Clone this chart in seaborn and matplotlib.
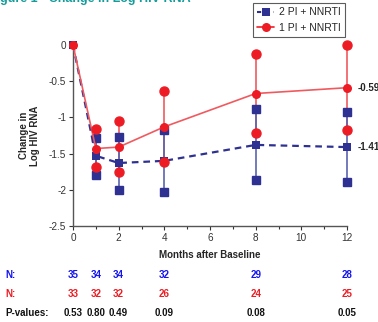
import matplotlib
matplotlib.use("Agg")
import matplotlib.pyplot as plt
import seaborn as sns
import pandas as pd
from matplotlib.lines import Line2D

months = [0, 1, 2, 4, 8, 12]
blue_mean = [0, -1.53, -1.63, -1.60, -1.38, -1.41]
blue_hi = [0, -1.28, -1.27, -1.17, -0.88, -0.92]
blue_lo = [0, -1.80, -2.00, -2.03, -1.87, -1.89]
red_mean = [0, -1.43, -1.41, -1.13, -0.67, -0.59]
red_hi = [0, -1.16, -1.05, -0.63, -0.12, 0.0]
red_lo = [0, -1.68, -1.76, -1.61, -1.22, -1.17]

n_months = [0, 1, 2, 4, 8, 12]
n_blue = ["35", "34", "34", "32", "29", "28"]
n_red = ["33", "32", "32", "26", "24", "25"]
p_values = ["0.53", "0.80", "0.49", "0.09", "0.08", "0.05"]

g_blue = "2 PI + NNRTI"
g_red = "1 PI + NNRTI"
c_blue = "#2e3192"
c_blue_line = "#5a63b0"
c_red = "#ed1c24"
c_red_line = "#f05a5f"

sns.set_style("ticks")
plt.rcParams['font.family'] = ['Liberation Sans', 'DejaVu Sans']

fig = plt.figure(figsize=(3.78, 3.22), dpi=100)
ax = fig.add_axes([73/378, 1-226/322, (347-73)/378, (226-45)/322])

df = pd.DataFrame({
    "month": months + months,
    "change": blue_mean + red_mean,
    "group": [g_blue]*len(months) + [g_red]*len(months),
})

# error bar lines
for m, lo, hi in zip(months[1:], red_lo[1:], red_hi[1:]):
    ax.plot([m, m], [lo, hi], color=c_red_line, lw=1.2, zorder=2, clip_on=False)
for m, lo, hi in zip(months[1:], blue_lo[1:], blue_hi[1:]):
    ax.plot([m, m], [lo, hi], color=c_blue_line, lw=1.2, zorder=2, clip_on=False)
ax.plot(months[1:], blue_lo[1:], 's', color=c_blue, ms=6, lw=0, zorder=3, clip_on=False)
ax.plot(months[1:], blue_hi[1:], 's', color=c_blue, ms=6, lw=0, zorder=3, clip_on=False)

sns.lineplot(data=df[df.group == g_blue], x="month", y="change", color=c_blue,
             marker="s", markersize=6, markeredgewidth=0, dashes=False,
             linestyle=(0, (3, 2.2)), lw=1.6, ax=ax, zorder=4, clip_on=False)
sns.lineplot(data=df[df.group == g_red], x="month", y="change", color=c_red_line,
             marker="o", markersize=6.5, markerfacecolor=c_red, markeredgewidth=0,
             lw=1.2, ax=ax, zorder=5, clip_on=False)

ax.plot(months[1:], red_lo[1:], 'o', color=c_red, ms=6.5, lw=0, zorder=6, clip_on=False)
ax.plot(months[1:], red_hi[1:], 'o', color=c_red, ms=6.5, lw=0, zorder=6, clip_on=False)

ax.set_xlim(0, 12)
ax.set_ylim(-2.5, 0)
ax.set_xticks([0, 2, 4, 6, 8, 10, 12])
ax.set_xticks([1, 3, 5, 7, 9, 11], minor=True)
ax.set_yticks([0, -0.5, -1, -1.5, -2, -2.5])
ax.set_yticklabels(["0", "-0.5", "-1", "-1.5", "-2", "-2.5"])
ax.tick_params(axis='both', labelsize=7.2, length=3, width=0.8, colors="#333333", pad=2)
ax.tick_params(axis='x', which='minor', length=2, width=0.8, colors="#333333")
for s in ["left", "bottom"]:
    ax.spines[s].set_color("#555555")
    ax.spines[s].set_linewidth(1.0)
sns.despine(ax=ax)

ax.set_xlabel("Months after Baseline", fontsize=7, fontweight="bold", labelpad=5)
ax.set_ylabel("Change in\nLog HIV RNA", fontsize=7, fontweight="bold", labelpad=6)

# end labels
ax.text(12.45, red_mean[-1], "-0.59", fontsize=7, fontweight="bold", va="center", ha="left")
ax.text(12.45, blue_mean[-1], "-1.41", fontsize=7, fontweight="bold", va="center", ha="left")

# table rows below
tr = ax.get_xaxis_transform()
for m, t in zip(n_months, n_blue):
    ax.text(m, -0.271, t, transform=tr, color="#1414f0", fontsize=7, fontweight="bold", ha="center", va="center")
for m, t in zip(n_months, n_red):
    ax.text(m, -0.376, t, transform=tr, color=c_red, fontsize=7, fontweight="bold", ha="center", va="center")
for m, t in zip(n_months, p_values):
    ax.text(m, -0.481, t, transform=tr, color="#111111", fontsize=7, fontweight="bold", ha="center", va="center")
fig.text(5/378, 1-275/322, "N:", color="#1414f0", fontsize=7, fontweight="bold", va="center")
fig.text(5/378, 1-294/322, "N:", color=c_red, fontsize=7, fontweight="bold", va="center")
fig.text(5/378, 1-313/322, "P-values:", color="#111111", fontsize=7, fontweight="bold", va="center")

# title, clipped at the top edge as in the reference
fig.text(-0.03, 1-2/322, "Figure 1 - Change in Log HIV RNA", color="#169b9b", fontsize=9,
         fontweight="bold", va="baseline", ha="left")

handles = [
    Line2D([0], [0], color=c_blue, ls=(0, (2, 2)), lw=1.5, marker="s", ms=6, mew=0),
    Line2D([0], [0], color=c_red, lw=1.2, marker="o", ms=6.5, mew=0),
]
leg = fig.legend(handles, [g_blue, g_red], loc="upper left",
                 bbox_to_anchor=(253/378, 1-3/322), fontsize=7.5, frameon=True,
                 fancybox=False, edgecolor="#333333", handlelength=1.6,
                 borderpad=0.4, labelspacing=0.55, handletextpad=0.5,
                 borderaxespad=0)
leg.get_frame().set_linewidth(0.8)

fig.savefig("out.png", dpi=100)
